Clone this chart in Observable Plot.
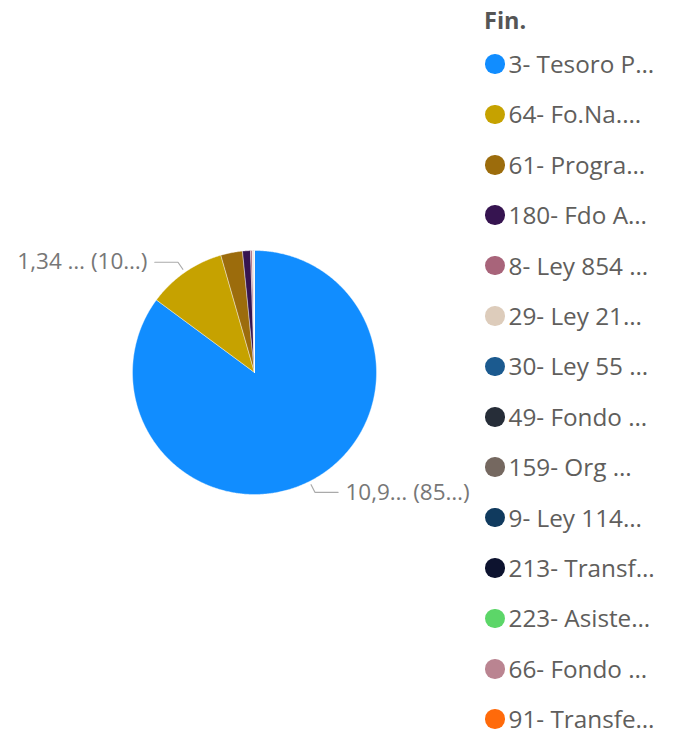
<!DOCTYPE html>
<html><head><meta charset="utf-8">
<script src="https://cdn.jsdelivr.net/npm/d3@7"></script>
<script src="https://cdn.jsdelivr.net/npm/@observablehq/plot@0.6"></script>
<style>
body{margin:0;background:#fff;font-family:"Open Sans","Noto Sans",sans-serif;}
#wrap{position:relative;width:684px;height:734px;overflow:hidden;background:#fff}
#chart{position:absolute;left:0;top:0}
#legend{position:absolute;left:0;top:0;width:684px;height:734px;pointer-events:none}
.ltitle{position:absolute;left:484px;top:4px;font-weight:700;font-size:23.5px;color:#555;line-height:32px}
.lrow{position:absolute;left:485px;height:34px;display:flex;align-items:center;white-space:nowrap}
.ldot{width:19.5px;height:19.5px;border-radius:50%;flex:none}
.ltext{margin-left:4px;font-size:24.3px;color:#605E5C;line-height:34px}
</style></head><body>
<div id="wrap"><div id="chart"></div><div id="legend"></div></div>
<script>
const legendTitle = "Fin.";
const categories = ["3- Tesoro P…","64- Fo.Na.…","61- Progra…","180- Fdo A…","8- Ley 854 …","29- Ley 21…","30- Ley 55 …","49- Fondo …","159- Org …","9- Ley 114…","213- Transf…","223- Asiste…","66- Fondo …","91- Transfe…"];
const values = [10.95, 1.34, 0.37, 0.135, 0.03, 0.012, 0.008, 0.005, 0.004, 0.003, 0.002, 0.0015, 0.001, 0.0007];
const colors = ["#118DFF","#C6A200","#9C6C0C","#361450","#A8647A","#DDCCBB","#1B5A8F","#262D38","#756860","#103A5E","#0D132F","#5CD668","#BA8491","#FF6A0A"];
const labelTexts = ["10,9… (85…)","1,34 … (10…)"];

const W = 684, H = 734, cx = 254, cy = 372, R = 122;

const total = d3.sum(values);
let acc = 0;
const slices = categories.map((c, i) => {
  const a0 = acc / total * 2 * Math.PI; acc += values[i];
  const a1 = acc / total * 2 * Math.PI;
  return {c, a0, a1, mid: (a0 + a1) / 2, v: values[i], i};
});
const wedgePts = slices.flatMap(s => {
  const n = Math.max(2, Math.ceil((s.a1 - s.a0) / (Math.PI / 360)));
  const pts = [{c: s.c, x: 0, y: 0}];
  for (let k = 0; k <= n; k++) {
    const a = s.a0 + (s.a1 - s.a0) * k / n;
    pts.push({c: s.c, x: Math.sin(a), y: Math.cos(a)});
  }
  pts.push({c: s.c, x: 0, y: 0});
  return pts;
});
const labeled = slices.slice(0, labelTexts.length).map((s, i) => {
  const side = Math.sin(s.mid) >= 0 ? 1 : -1;
  const p1 = {x: 1.03 * Math.sin(s.mid), y: 1.03 * Math.cos(s.mid)};
  const p2 = {x: 1.1 * Math.sin(s.mid), y: 1.1 * Math.cos(s.mid)};
  const p3 = {x: p2.x + side * 0.19, y: p2.y};
  return {c: s.c, side, p1, p2, p3, text: labelTexts[i], tx: p3.x + side * 0.06, ty: p3.y};
});
const leaderPts = labeled.flatMap(l => [l.p1, l.p2, l.p3].map(p => ({c: l.c, x: p.x, y: p.y})));

const plot = Plot.plot({
  width: W, height: H,
  marginTop: 0, marginRight: 0, marginBottom: 0, marginLeft: 0,
  x: {domain: [-cx / R, (W - cx) / R], range: [0, W], axis: null},
  y: {domain: [-(H - cy) / R, cy / R], range: [H, 0], axis: null},
  color: {domain: categories, range: colors},
  style: {fontFamily: '"Open Sans","Noto Sans",sans-serif', background: "transparent"},
  marks: [
    Plot.line(wedgePts, {x: "x", y: "y", z: "c", fill: "c", stroke: "#fff", strokeWidth: 0.4, strokeLinejoin: "round"}),
    Plot.line(leaderPts, {x: "x", y: "y", z: "c", stroke: "#AAAAAA", strokeWidth: 1.2, curve: "linear"}),
    Plot.text(labeled.filter(l => l.side > 0), {x: "tx", y: "ty", text: "text", textAnchor: "start", fill: "#777", fontSize: 22.5}),
    Plot.text(labeled.filter(l => l.side < 0), {x: "tx", y: "ty", text: "text", textAnchor: "end", fill: "#777", fontSize: 22.5})
  ]
});
document.getElementById("chart").appendChild(plot);

const color = plot.scale("color");
const leg = d3.select("#legend");
leg.append("div").attr("class", "ltitle").text(legendTitle);
categories.forEach((c, i) => {
  const row = leg.append("div").attr("class", "lrow").style("top", (64 + i * 50.4 - 17) + "px");
  row.append("div").attr("class", "ldot").style("background", color.apply(c));
  row.append("div").attr("class", "ltext").text(c);
});
</script>
</body></html>
